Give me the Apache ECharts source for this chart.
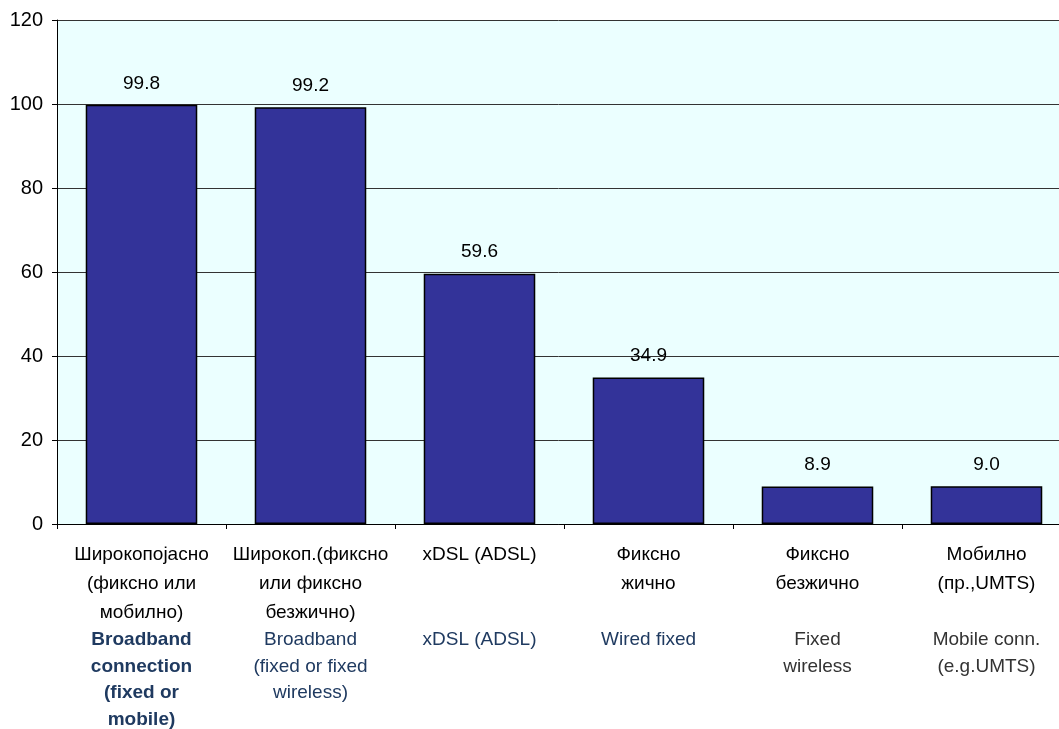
<!DOCTYPE html>
<html>
<head>
<meta charset="utf-8">
<script src="https://cdn.jsdelivr.net/npm/echarts@6/dist/echarts.min.js"></script>
<style>
html,body{margin:0;padding:0;background:#fff;}
#chart{width:1059px;height:729px;}
</style>
</head>
<body>
<div id="chart"></div>
<script>
var categoriesMk = [
  ['Широкопојасно', '(фиксно или', 'мобилно)'],
  ['Широкоп.(фиксно', 'или фиксно', 'безжично)'],
  ['xDSL (ADSL)'],
  ['Фиксно', 'жично'],
  ['Фиксно', 'безжично'],
  ['Мобилно', '(пр.,UMTS)']
];
var categoriesEn = [
  ['Broadband', 'connection', '(fixed or', 'mobile)'],
  ['Broadband', '(fixed or fixed', 'wireless)'],
  ['xDSL (ADSL)'],
  ['Wired fixed'],
  ['Fixed', 'wireless'],
  ['Mobile conn.', '(e.g.UMTS)']
];
var enStyle = ['eb', 'e', 'e', 'e', 'g', 'g'];
var values = [99.8, 99.2, 59.6, 34.9, 8.9, 9.0];
var yTicks = [0, 20, 40, 60, 80, 100, 120];

var labels = categoriesMk.map(function (mk, i) {
  var lines = [];
  for (var k = 0; k < 3; k++) {
    lines.push(k < mk.length ? '{c|' + mk[k] + '}' : '{c| }');
  }
  categoriesEn[i].forEach(function (t) { lines.push('{' + enStyle[i] + '|' + t + '}'); });
  return lines.join('\n');
});

var F = 'Liberation Sans, Arial, sans-serif';
var chart = echarts.init(document.getElementById('chart'));
chart.setOption({
  animation: false,
  grid: {left: 57, top: 20, width: 1014, bottom: 205, outerBoundsMode: 'none', containLabel: false, show: true, backgroundColor: '#EBFFFF', borderWidth: 0},
  xAxis: {
    type: 'category',
    data: labels,
    axisLine: {lineStyle: {color: '#000', width: 1}},
    axisTick: {show: true, length: 5, lineStyle: {color: '#000'}},
    axisLabel: {
      interval: 0,
      margin: 16,
      hideOverlap: false,
      fontFamily: F,
      rich: {
        c: {fontSize: 19, color: '#000', lineHeight: 29, fontFamily: F, align: 'center'},
        e: {fontSize: 19, color: '#1F3A60', lineHeight: 26.5, fontFamily: F, align: 'center'},
        eb: {fontSize: 19, color: '#1F3A60', lineHeight: 26.5, fontWeight: 'bold', fontFamily: F, align: 'center'},
        g: {fontSize: 19, color: '#333', lineHeight: 26.5, fontFamily: F, align: 'center'}
      }
    }
  },
  yAxis: {
    type: 'value',
    min: yTicks[0],
    max: yTicks[yTicks.length - 1],
    interval: 20,
    axisLine: {show: true, lineStyle: {color: '#000', width: 1}},
    axisTick: {show: true, length: 5, lineStyle: {color: '#000'}},
    axisLabel: {fontSize: 20, color: '#000', margin: 14, fontFamily: F},
    splitLine: {show: true, lineStyle: {color: '#333', width: 1}}
  },
  series: [{
    type: 'bar',
    data: values,
    barCategoryGap: '34%',
    itemStyle: {color: '#333399', borderColor: '#000', borderWidth: 1.5},
    label: {
      show: true,
      position: 'top',
      distance: 12,
      fontSize: 19,
      color: '#000',
      fontFamily: F,
      formatter: function (p) { return p.value.toFixed(1); }
    }
  }]
});
</script>
</body>
</html>
